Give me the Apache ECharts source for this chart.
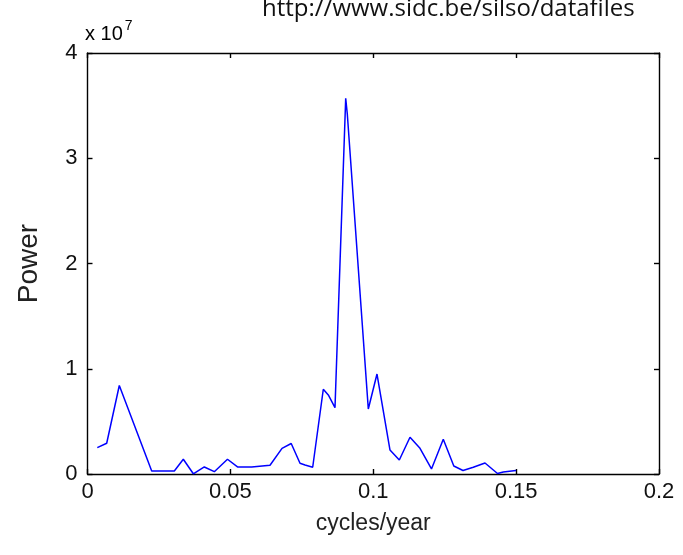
<!DOCTYPE html>
<html>
<head>
<meta charset="utf-8">
<script src="https://cdn.jsdelivr.net/npm/echarts@6/dist/echarts.min.js"></script>
<style>
html,body{margin:0;padding:0;background:#fff;}
#chart{width:683px;height:555px;}
</style>
</head>
<body>
<div id="chart"></div>
<script>
// frequency (cycles/year)
var freq = [0.00343, 0.00672, 0.01113, 0.02247, 0.03038, 0.03353, 0.03703, 0.04088, 0.04438, 0.04899,
            0.05249, 0.05746, 0.05802, 0.06387, 0.06807, 0.07129, 0.07437, 0.07612, 0.07881, 0.08252,
            0.08427, 0.08661, 0.09036, 0.09092, 0.09827, 0.10131, 0.10586, 0.10912, 0.11286, 0.11636,
            0.12038, 0.12451, 0.12819, 0.13141, 0.13501, 0.13911, 0.14348, 0.14551, 0.14996];
// power in units of 1e7
var power = [0.250, 0.292, 0.841, 0.029, 0.029, 0.140, 0.002, 0.067, 0.022, 0.140,
             0.067, 0.067, 0.083, 0.083, 0.244, 0.290, 0.102, 0.086, 0.064, 0.805,
             0.751, 0.630, 3.570, 3.420, 0.618, 0.950, 0.228, 0.133, 0.349, 0.244,
             0.048, 0.330, 0.076, 0.033, 0.064, 0.105, 0.005, 0.019, 0.033];
var xTickLabels = ['0', '0.05', '0.1', '0.15', '0.2'];
var yTickLabels = ['0', '1', '2', '3', '4'];
var scale = 1e7;

var seriesData = freq.map(function (f, i) { return [f, power[i] * scale]; });

var chart = echarts.init(document.getElementById('chart'), null, {renderer: 'canvas'});
var axisFont = 'Liberation Sans, Arial, sans-serif';
var lineStyle = {color: '#000', width: 1.4};
chart.setOption({
  animation: false,
  backgroundColor: '#fff',
  grid: {left: 87.5, right: 24, top: 53, bottom: 81, containLabel: false},
  xAxis: [{
    type: 'value', min: 0, max: 0.2, interval: 0.05, position: 'bottom',
    name: 'cycles/year', nameLocation: 'middle', nameGap: 38,
    nameTextStyle: {fontFamily: axisFont, fontSize: 23, color: '#222'},
    axisLine: {show: true, onZero: false, lineStyle: lineStyle},
    axisTick: {show: true, inside: true, length: 5, lineStyle: lineStyle},
    axisLabel: {fontFamily: axisFont, fontSize: 22, color: '#111', margin: 7,
      formatter: function (v) { return xTickLabels[Math.round(v / 0.05)]; }},
    splitLine: {show: false}
  }, {
    type: 'value', min: 0, max: 0.2, interval: 0.05, position: 'top',
    axisLine: {show: true, onZero: false, lineStyle: lineStyle},
    axisTick: {show: true, inside: true, length: 5, lineStyle: lineStyle},
    axisLabel: {show: false}, splitLine: {show: false}
  }],
  yAxis: [{
    type: 'value', min: 0, max: 4 * scale, interval: scale, position: 'left',
    name: 'Power', nameLocation: 'middle', nameGap: 44, nameRotate: 90,
    nameTextStyle: {fontFamily: axisFont, fontSize: 28, color: '#222'},
    axisLine: {show: true, onZero: false, lineStyle: lineStyle},
    axisTick: {show: true, inside: true, length: 5, lineStyle: lineStyle},
    axisLabel: {fontFamily: axisFont, fontSize: 22, color: '#111', margin: 10,
      formatter: function (v) { return yTickLabels[Math.round(v / scale)]; }},
    splitLine: {show: false}
  }, {
    type: 'value', min: 0, max: 4 * scale, interval: scale, position: 'right',
    axisLine: {show: true, onZero: false, lineStyle: lineStyle},
    axisTick: {show: true, inside: true, length: 5, lineStyle: lineStyle},
    axisLabel: {show: false}, splitLine: {show: false}
  }],
  series: [{
    type: 'line', data: seriesData, showSymbol: false, symbol: 'none',
    lineStyle: {color: '#0000ff', width: 1.5}, xAxisIndex: 0, yAxisIndex: 0
  }],
  graphic: [{
    type: 'text', left: 85, top: 19,
    style: {
      text: '{a|x 10}{b|7}',
      rich: {
        a: {fontFamily: axisFont, fontSize: 20, color: '#111', verticalAlign: 'bottom', lineHeight: 25},
        b: {fontFamily: axisFont, fontSize: 14, color: '#111', verticalAlign: 'top', lineHeight: 25, padding: [0, 0, 0, 2]}
      }
    }
  }, {
    type: 'text', left: 262, top: -3,
    style: {text: 'http://www.sidc.be/silso/datafiles', fontFamily: 'Open Sans, Noto Sans, sans-serif', fontSize: 24, fill: '#111'}
  }]
});
</script>
</body>
</html>
